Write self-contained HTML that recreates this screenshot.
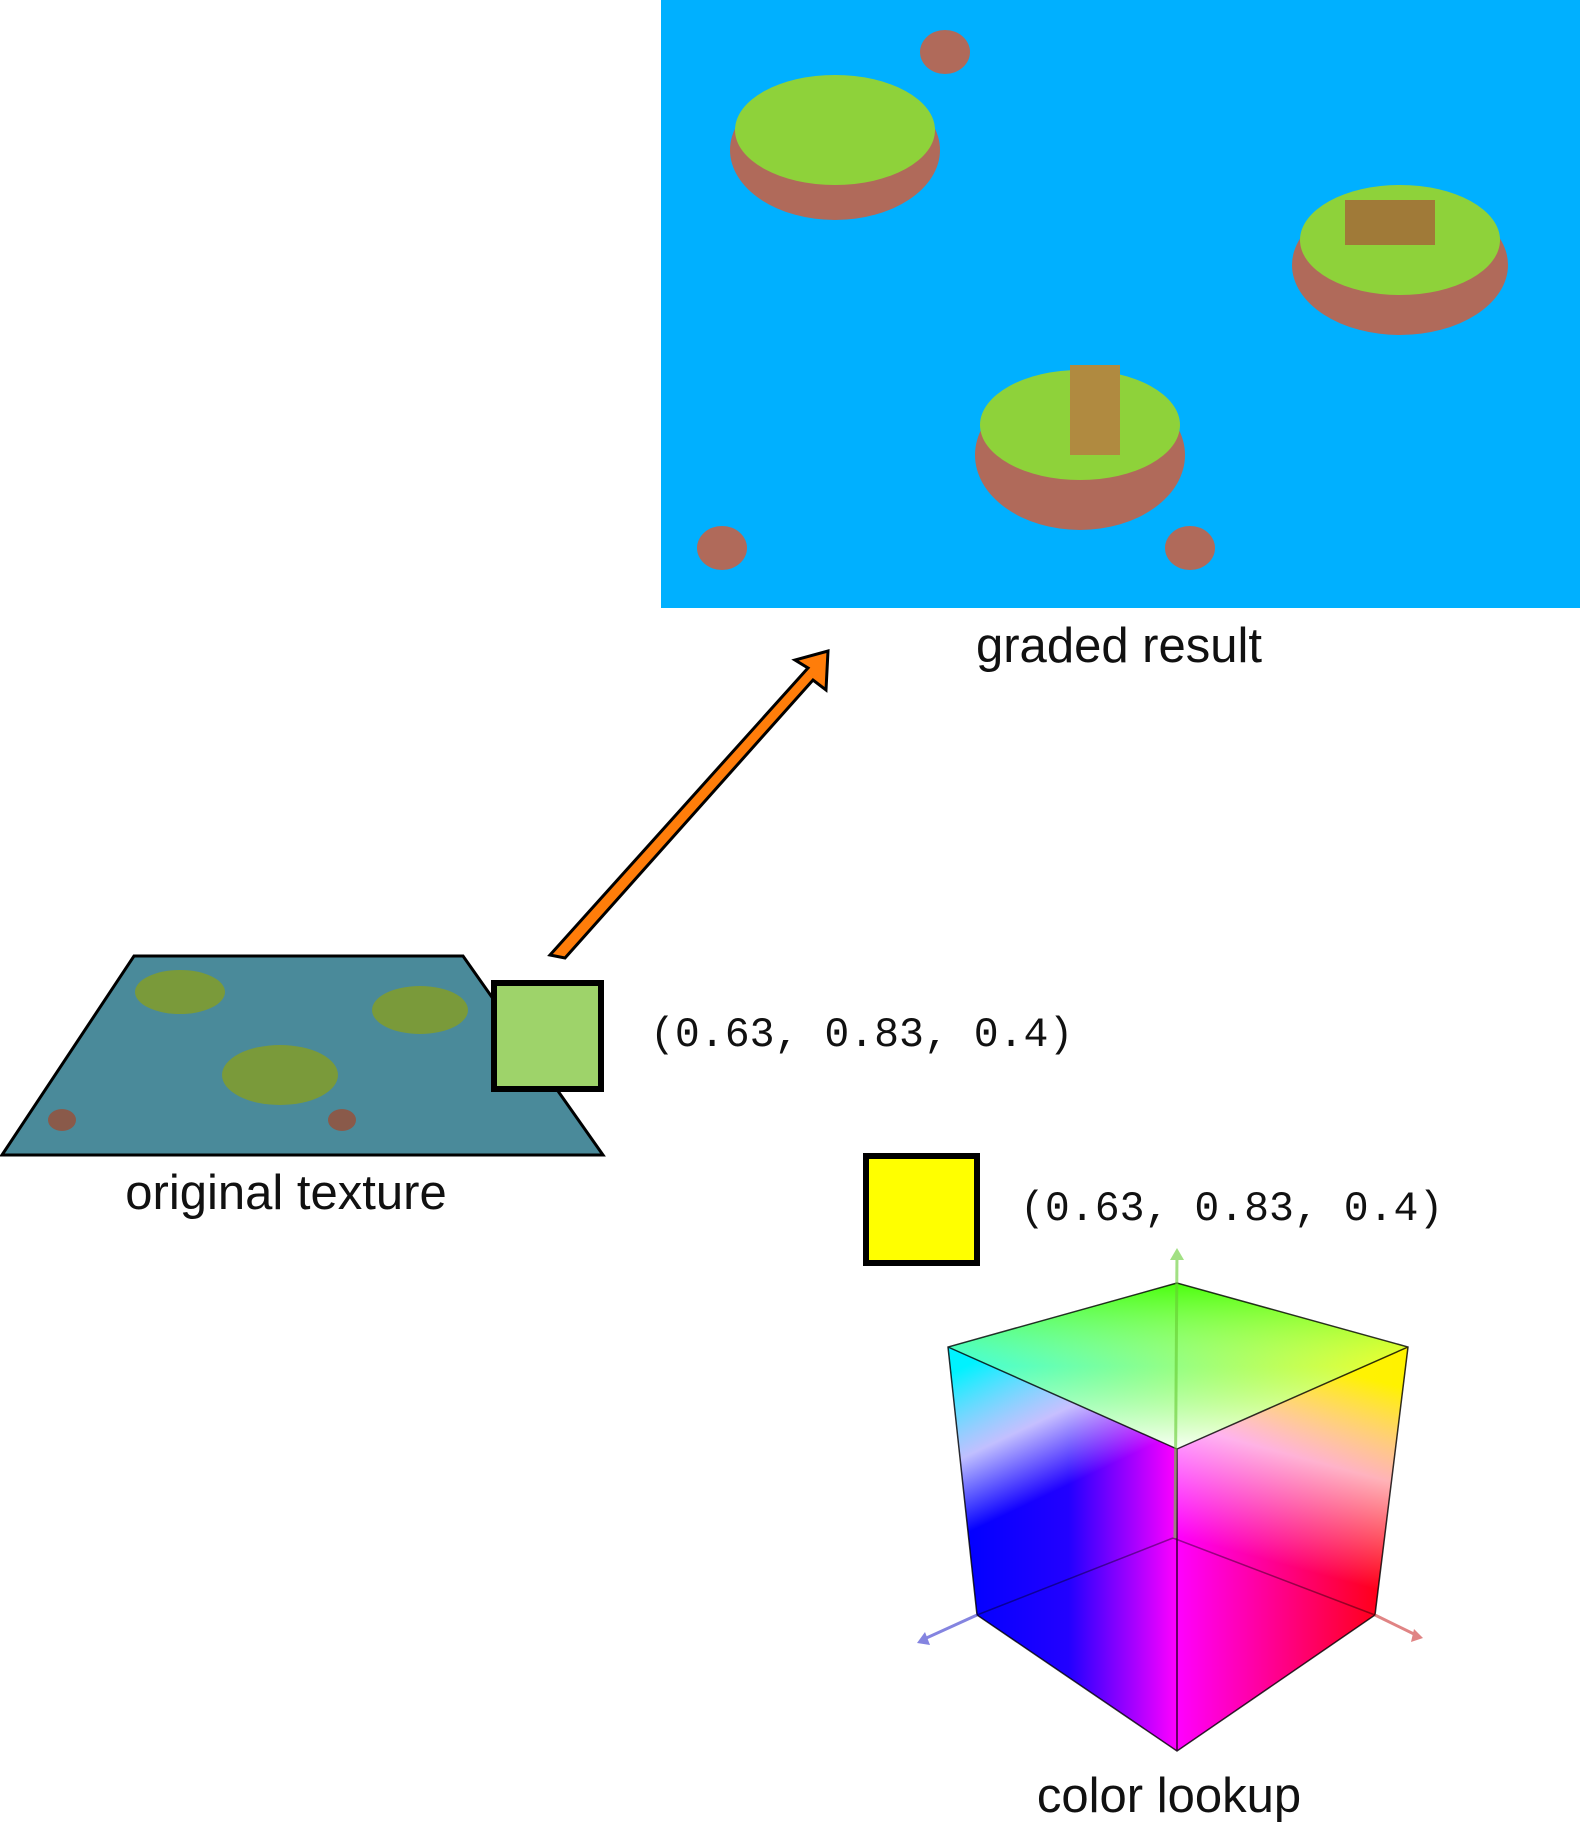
<!DOCTYPE html>
<html><head><meta charset="utf-8"><style>
html,body{margin:0;padding:0;background:#fff;}
body{width:1580px;height:1825px;position:relative;overflow:hidden;font-family:"Liberation Sans",sans-serif;}
.lbl{position:absolute;font-family:"Liberation Sans",sans-serif;font-size:49px;color:#111;white-space:nowrap;transform:translateX(-50%);}
.mono{position:absolute;font-family:"Liberation Mono",monospace;font-size:41.5px;color:#111;white-space:nowrap;}
</style></head><body>
<svg width="1580" height="1825" style="position:absolute;left:0;top:0">
<defs>
<linearGradient id="tA" x1="948" y1="0" x2="1408" y2="0" gradientUnits="userSpaceOnUse"><stop offset="0" stop-color="#00ffff"/><stop offset="1" stop-color="#ffff00"/></linearGradient>
<linearGradient id="tB" x1="0" y1="1283" x2="0" y2="1449" gradientUnits="userSpaceOnUse"><stop offset="0" stop-color="#44ff00" stop-opacity="0.9"/><stop offset="0.5" stop-color="#ccff88" stop-opacity="0.3"/><stop offset="1" stop-color="#ffffff" stop-opacity="0.95"/></linearGradient>
<linearGradient id="lA" x1="960" y1="0" x2="1177" y2="0" gradientUnits="userSpaceOnUse"><stop offset="0" stop-color="#0000ff"/><stop offset="0.5" stop-color="#2200ff"/><stop offset="1" stop-color="#ff00ff"/></linearGradient>
<linearGradient id="lB" x1="1000" y1="1350" x2="1100" y2="1560" gradientUnits="userSpaceOnUse"><stop offset="0" stop-color="#00ffff" stop-opacity="0.95"/><stop offset="0.35" stop-color="#ffffff" stop-opacity="0.75"/><stop offset="0.65" stop-color="#ffffff" stop-opacity="0"/></linearGradient>
<linearGradient id="rA" x1="1177" y1="0" x2="1400" y2="0" gradientUnits="userSpaceOnUse"><stop offset="0" stop-color="#ff00ff"/><stop offset="1" stop-color="#ff0000"/></linearGradient>
<linearGradient id="rB" x1="1300" y1="1360" x2="1230" y2="1620" gradientUnits="userSpaceOnUse"><stop offset="0" stop-color="#ffff00" stop-opacity="0.95"/><stop offset="0.35" stop-color="#ffffff" stop-opacity="0.7"/><stop offset="0.75" stop-color="#ffffff" stop-opacity="0"/></linearGradient>
</defs>
<rect x="661" y="0" width="919" height="608" fill="#00b0ff"/>
<g>
<ellipse cx="835" cy="150" rx="105" ry="70" fill="#b06a5a"/><ellipse cx="835" cy="130" rx="100" ry="55" fill="#8ed23a"/>
<ellipse cx="1400" cy="265" rx="108" ry="70" fill="#b06a5a"/><ellipse cx="1400" cy="240" rx="100" ry="55" fill="#8ed23a"/>
<ellipse cx="1080" cy="455" rx="105" ry="75" fill="#b06a5a"/><ellipse cx="1080" cy="425" rx="100" ry="55" fill="#8ed23a"/>
<rect x="1070" y="365" width="50" height="90" fill="#b08a40"/>
<rect x="1345" y="200" width="90" height="45" fill="#a07a38"/>
<ellipse cx="945" cy="52" rx="25" ry="22" fill="#b06a5a"/>
<ellipse cx="722" cy="548" rx="25" ry="22" fill="#b06a5a"/>
<ellipse cx="1190" cy="548" rx="25" ry="22" fill="#b06a5a"/>
</g>
<polygon points="134,956 463,956 603,1155 2,1155" fill="#4a8a9a" stroke="#000" stroke-width="3"/>
<ellipse cx="180" cy="992" rx="45" ry="22" fill="#7a9a3a"/>
<ellipse cx="420" cy="1010" rx="48" ry="24" fill="#7a9a3a"/>
<ellipse cx="280" cy="1075" rx="58" ry="30" fill="#7a9a3a"/>
<ellipse cx="62" cy="1120" rx="14" ry="11" fill="#8a5a4a"/>
<ellipse cx="342" cy="1120" rx="14" ry="11" fill="#8a5a4a"/>
<polygon points="550,955 808,668 795,660 828,651 826,690 813,680 565,958" fill="#ff7d0a" stroke="#000" stroke-width="3" stroke-linejoin="miter"/>
<rect x="494" y="983" width="107" height="106" fill="#9ed36a" stroke="#000" stroke-width="6"/>
<rect x="866" y="1156" width="111" height="107" fill="#ffff00" stroke="#000" stroke-width="6"/>
<polygon points="1177,1283 948,1347 1177,1449 1408,1347" fill="url(#tA)"/>
<polygon points="1177,1283 948,1347 1177,1449 1408,1347" fill="url(#tB)"/>
<polygon points="948,1347 1177,1449 1177,1751 977,1615" fill="url(#lA)"/>
<polygon points="948,1347 1177,1449 1177,1751 977,1615" fill="url(#lB)"/>
<polygon points="1177,1449 1408,1347 1375,1615 1177,1751" fill="url(#rA)"/>
<polygon points="1177,1449 1408,1347 1375,1615 1177,1751" fill="url(#rB)"/>
<g stroke="#000" stroke-width="1.5" fill="none" opacity="0.8">
<polygon points="1177,1283 948,1347 977,1615 1177,1751 1375,1615 1408,1347"/>
<line x1="1177" y1="1449" x2="948" y2="1347"/><line x1="1177" y1="1449" x2="1408" y2="1347"/><line x1="1177" y1="1449" x2="1177" y2="1751"/>
<line x1="1173" y1="1538" x2="977" y2="1615" opacity="0.5"/><line x1="1173" y1="1538" x2="1375" y2="1615" opacity="0.5"/>
</g>
<g stroke-width="3" opacity="0.6">
<line x1="1175" y1="1538" x2="1177" y2="1252" stroke="#66cc33"/><polygon points="1170,1260 1177,1248 1184,1260" fill="#66cc33"/>
<line x1="977" y1="1615" x2="922" y2="1640" stroke="#3333cc"/><polygon points="925,1632 917,1643 930,1645" fill="#3333cc"/>
<line x1="1375" y1="1615" x2="1418" y2="1636" stroke="#cc3333"/><polygon points="1414,1629 1423,1638 1411,1642" fill="#cc3333"/>
</g>
</svg>
<div class="lbl" style="left:1119px;top:618px;">graded result</div>
<div class="lbl" style="left:286px;top:1165px;">original texture</div>
<div class="lbl" style="left:1169px;top:1768px;">color lookup</div>
<div class="mono" style="left:650px;top:1012px;">(0.63, 0.83, 0.4)</div>
<div class="mono" style="left:1020px;top:1186px;">(0.63, 0.83, 0.4)</div>
</body></html>
